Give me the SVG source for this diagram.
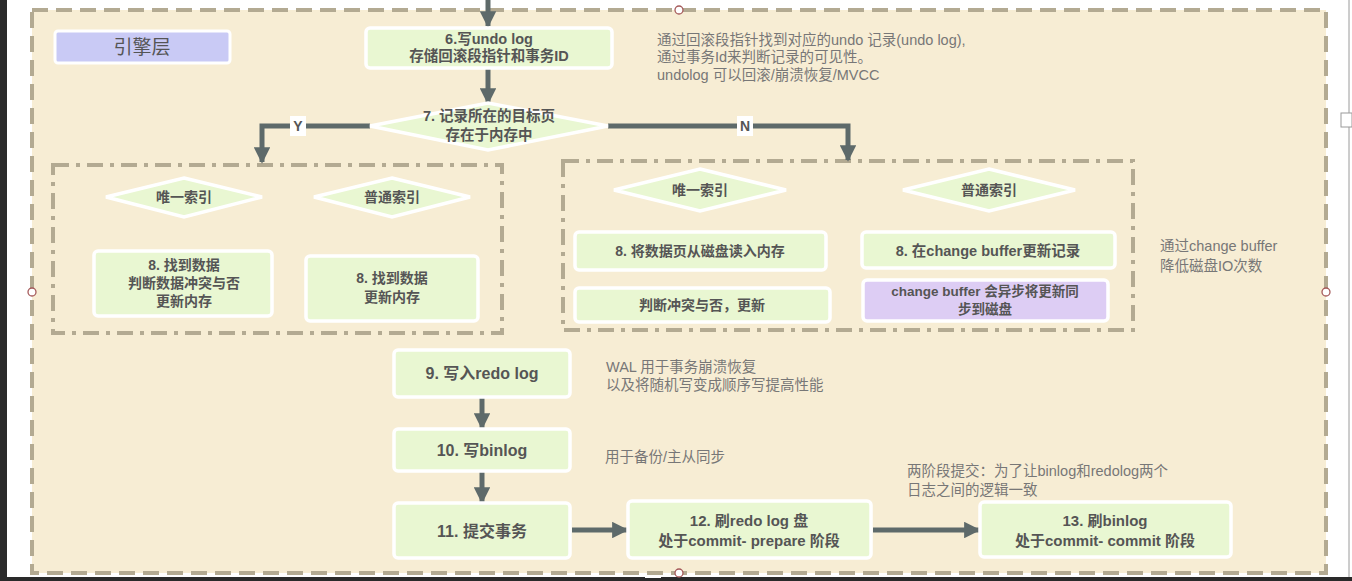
<svg xmlns="http://www.w3.org/2000/svg" width="1352" height="581" viewBox="0 0 1352 581">
<defs>
<style>
.node{fill:#e9f7d2;stroke:#ffffff;stroke-width:3.5}
.purple{fill:#ddcdf4;stroke:#ffffff;stroke-width:3.5}
.dia{fill:#e9f7d2;stroke:#ffffff;stroke-width:3.5}
.t{font-family:"Liberation Sans","Noto Sans CJK SC",sans-serif;font-weight:bold;fill:#555555;text-anchor:middle}
.n{font-family:"Liberation Sans","Noto Sans CJK SC",sans-serif;fill:#777777;font-size:14.5px}
.conn{fill:none;stroke:#5e6a6a;stroke-width:5}
.dd{fill:none;stroke:#b3aa92;stroke-width:4;stroke-dasharray:16 7 4 7}
.pin{fill:#ffffff;stroke:#a55a5a;stroke-width:1.3}
</style>
<marker id="ah" viewBox="0 0 10 10" refX="9" refY="5" markerWidth="3.3" markerHeight="3.3" orient="auto" markerUnits="strokeWidth">
<path d="M0,0 L10,5 L0,10 z" fill="#5e6a6a"/>
</marker>
</defs>
<rect x="0" y="0" width="1352" height="581" fill="#ffffff"/>
<rect x="0" y="0" width="7" height="581" fill="#2a2a2a"/>
<rect x="0" y="577" width="1352" height="4" fill="#2a2a2a"/>
<line x1="1349" y1="0" x2="1349" y2="577" stroke="#9a9a9a" stroke-width="1"/>
<rect x="1341" y="113" width="11" height="14" fill="#ffffff" stroke="#9a9a9a" stroke-width="1"/>
<rect x="645" y="574" width="16" height="4" fill="#ffffff"/>

<g id="engine-layer">
<rect x="32" y="10" width="1294" height="563" fill="#f7edd4" stroke="#b3aa92" stroke-width="4" stroke-dasharray="16 8"/>
<circle class="pin" cx="679" cy="10" r="4"/>
<circle class="pin" cx="32" cy="292" r="4"/>
<circle class="pin" cx="1326" cy="292" r="4"/>
<circle class="pin" cx="679" cy="573" r="4"/>
</g>

<g id="engine-label">
<rect x="55" y="31" width="175" height="32" rx="3" fill="#c9caf5" stroke="#ffffff" stroke-width="3"/>
<text x="142" y="54" font-family="Liberation Sans,'Noto Sans CJK SC',sans-serif" font-size="19" fill="#555555" text-anchor="middle">引擎层</text>
</g>

<g id="group-in-memory">
<rect class="dd" x="53" y="165" width="449" height="168"/>
</g>
<g id="group-not-in-memory">
<rect class="dd" x="563" y="161" width="570" height="169"/>
</g>

<g id="connectors">
<line class="conn" x1="488" y1="0" x2="488" y2="26" marker-end="url(#ah)"/>
<line class="conn" x1="488" y1="69" x2="488" y2="103" marker-end="url(#ah)"/>
<polyline class="conn" points="370,126 262,126 262,162" marker-end="url(#ah)"/>
<polyline class="conn" points="608,126 848,126 848,160" marker-end="url(#ah)"/>
<line class="conn" x1="482" y1="398" x2="482" y2="428" marker-end="url(#ah)"/>
<line class="conn" x1="482" y1="472" x2="482" y2="502" marker-end="url(#ah)"/>
<line class="conn" x1="572" y1="530" x2="627" y2="530" marker-end="url(#ah)"/>
<line class="conn" x1="873" y1="530" x2="979" y2="530" marker-end="url(#ah)"/>
<rect x="290" y="116" width="16" height="20" fill="#ffffff"/>
<text x="298" y="131" class="t" font-size="14">Y</text>
<rect x="737" y="116" width="16" height="20" fill="#ffffff"/>
<text x="745" y="131" class="t" font-size="14">N</text>
</g>

<g id="node6">
<rect class="node" x="366" y="28" width="246" height="40" rx="4"/>
<text class="t" x="489" y="44" font-size="14.5">6.写undo log</text>
<text class="t" x="489" y="61" font-size="14.5">存储回滚段指针和事务ID</text>
</g>

<g id="node7">
<polygon class="dia" points="488,103 608,126 488,150 370,126"/>
<text class="t" x="489" y="121" font-size="14.5">7. 记录所在的目标页</text>
<text class="t" x="489" y="140" font-size="14.5">存在于内存中</text>
</g>

<g id="left-unique">
<polygon class="dia" points="184,178 262,197 184,217 106,197"/>
<text class="t" x="184" y="202" font-size="14" font-weight="normal">唯一索引</text>
</g>
<g id="left-normal">
<polygon class="dia" points="392,178 470,197 392,217 314,197"/>
<text class="t" x="392" y="202" font-size="14" font-weight="normal">普通索引</text>
</g>
<g id="left-node8a">
<rect class="node" x="94" y="251" width="178" height="65" rx="4"/>
<text class="t" x="184" y="270" font-size="14">8. 找到数据</text>
<text class="t" x="184" y="288" font-size="14">判断数据冲突与否</text>
<text class="t" x="184" y="306" font-size="14">更新内存</text>
</g>
<g id="left-node8b">
<rect class="node" x="306" y="256" width="172" height="65" rx="4"/>
<text class="t" x="392" y="283" font-size="14">8. 找到数据</text>
<text class="t" x="392" y="302" font-size="14">更新内存</text>
</g>

<g id="right-unique">
<polygon class="dia" points="700,169 786,190 700,211 614,190"/>
<text class="t" x="700" y="195" font-size="14" font-weight="normal">唯一索引</text>
</g>
<g id="right-normal">
<polygon class="dia" points="989,169 1075,190 989,211 903,190"/>
<text class="t" x="989" y="195" font-size="14" font-weight="normal">普通索引</text>
</g>
<g id="right-node8a">
<rect class="node" x="575" y="232" width="251" height="38" rx="4"/>
<text class="t" x="700" y="256" font-size="14">8. 将数据页从磁盘读入内存</text>
</g>
<g id="right-node8b">
<rect class="node" x="575" y="288" width="255" height="34" rx="4"/>
<text class="t" x="702" y="310" font-size="14">判断冲突与否，更新</text>
</g>
<g id="right-node8c">
<rect class="node" x="862" y="232" width="253" height="36" rx="4"/>
<text class="t" x="988" y="256" font-size="14.5">8. 在change buffer更新记录</text>
</g>
<g id="right-node8d">
<rect class="purple" x="863" y="280" width="245" height="41" rx="4"/>
<text class="t" x="985" y="296" font-size="13.5">change buffer 会异步将更新同</text>
<text class="t" x="985" y="314" font-size="13.5">步到磁盘</text>
</g>

<g id="node9">
<rect class="node" x="394" y="350" width="176" height="47" rx="4"/>
<text class="t" x="482" y="379" font-size="16">9. 写入redo log</text>
</g>
<g id="node10">
<rect class="node" x="394" y="429" width="176" height="42" rx="4"/>
<text class="t" x="482" y="456" font-size="16">10. 写binlog</text>
</g>
<g id="node11">
<rect class="node" x="394" y="503" width="176" height="55" rx="4"/>
<text class="t" x="482" y="537" font-size="16">11. 提交事务</text>
</g>
<g id="node12">
<rect class="node" x="628" y="501" width="243" height="57" rx="4"/>
<text class="t" x="749" y="526" font-size="15">12. 刷redo log 盘</text>
<text class="t" x="749" y="546" font-size="15">处于commit- prepare 阶段</text>
</g>
<g id="node13">
<rect class="node" x="980" y="502" width="251" height="55" rx="4"/>
<text class="t" x="1105" y="526" font-size="15">13. 刷binlog</text>
<text class="t" x="1105" y="546" font-size="15">处于commit- commit 阶段</text>
</g>

<g id="notes">
<text class="n" x="657" y="45">通过回滚段指针找到对应的undo 记录(undo log),</text>
<text class="n" x="657" y="62">通过事务Id来判断记录的可见性。</text>
<text class="n" x="657" y="80">undolog 可以回滚/崩溃恢复/MVCC</text>
<text class="n" x="1160" y="251">通过change buffer</text>
<text class="n" x="1160" y="271">降低磁盘IO次数</text>
<text class="n" x="606" y="372">WAL 用于事务崩溃恢复</text>
<text class="n" x="606" y="390">以及将随机写变成顺序写提高性能</text>
<text class="n" x="605" y="462">用于备份/主从同步</text>
<text class="n" x="907" y="476">两阶段提交：为了让binlog和redolog两个</text>
<text class="n" x="907" y="495">日志之间的逻辑一致</text>
</g>
</svg>
